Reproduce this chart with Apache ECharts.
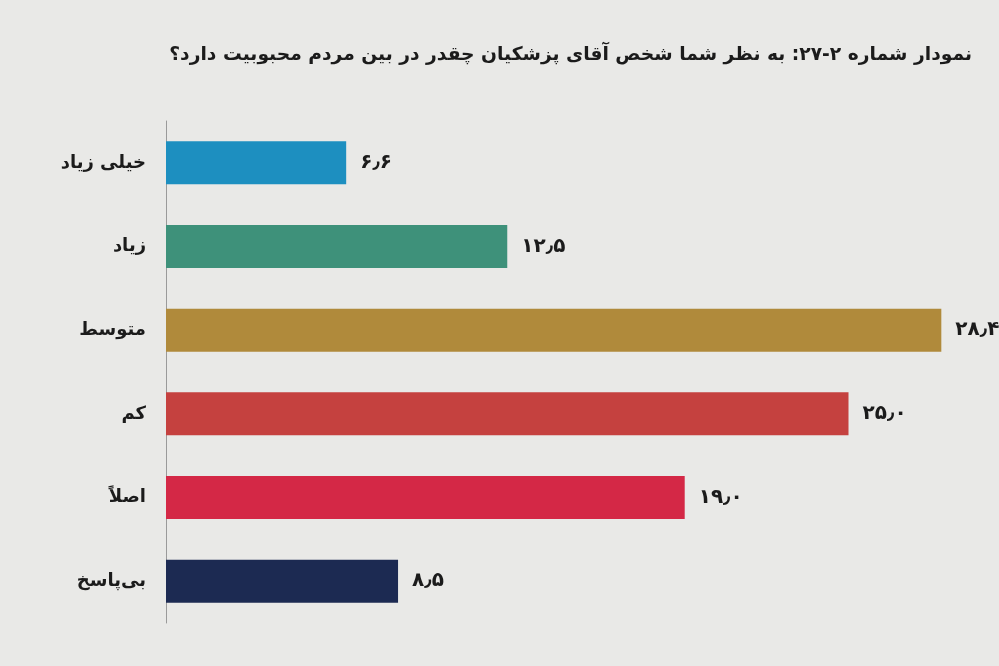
<!DOCTYPE html>
<html>
<head>
<meta charset="utf-8">
<script src="https://cdn.jsdelivr.net/npm/echarts@6/dist/echarts.min.js"></script>
<style>
html,body{margin:0;padding:0;background:#e9e9e7;}
#chart{width:999px;height:666px;}
</style>
</head>
<body>
<div id="chart"></div>
<script>
var titleText = 'نمودار شماره ۲-۲۷: به نظر شما شخص آقای پزشکیان چقدر در بین مردم محبوبیت دارد؟';
var categories = ['خیلی زیاد', 'زیاد', 'متوسط', 'کم', 'اصلاً', 'بی‌پاسخ'];
var values = [6.6, 12.5, 28.4, 25.0, 19.0, 8.5];
var barColors = ['#1d8fc0', '#3e917a', '#b08a3b', '#c5413f', '#d42846', '#1c2a52'];

function toPersian(v) {
  var s = v.toFixed(1);
  var d = '۰۱۲۳۴۵۶۷۸۹';
  return s.replace(/[0-9]/g, function (c) { return d[+c]; }).replace('.', '٫');
}

var chart = echarts.init(document.getElementById('chart'), null, {renderer: 'canvas'});
var RLM = '\u200F';
chart.setOption({
  backgroundColor: '#e9e9e7',
  animation: false,
  title: {
    text: RLM + titleText + RLM,
    right: 22,
    top: 41,
    textStyle: {
      fontFamily: 'DejaVu Sans',
      fontSize: 18.7,
      fontWeight: 'bold',
      color: '#1b1b1b'
    }
  },
  grid: {left: 166, right: 14, top: 121, bottom: 43, containLabel: false},
  xAxis: {
    type: 'value',
    min: 0,
    max: 30,
    show: false
  },
  yAxis: {
    type: 'category',
    data: categories,
    inverse: true,
    axisLine: {show: true, lineStyle: {color: '#9a9a9a', width: 1}},
    axisTick: {show: false},
    splitLine: {show: false},
    axisLabel: {
      margin: 20,
      fontFamily: 'DejaVu Sans',
      fontSize: 18,
      fontWeight: 'bold',
      color: '#1b1b1b'
    }
  },
  series: [{
    type: 'bar',
    data: values.map(function (v, i) {
      return {value: v, itemStyle: {color: barColors[i]}};
    }),
    barWidth: 43,
    label: {
      show: true,
      position: 'right',
      distance: 14,
      fontFamily: 'DejaVu Sans',
      fontSize: 20,
      fontWeight: 'bold',
      color: '#1b1b1b',
      formatter: function (p) { return toPersian(p.value); }
    }
  }]
});
</script>
</body>
</html>
